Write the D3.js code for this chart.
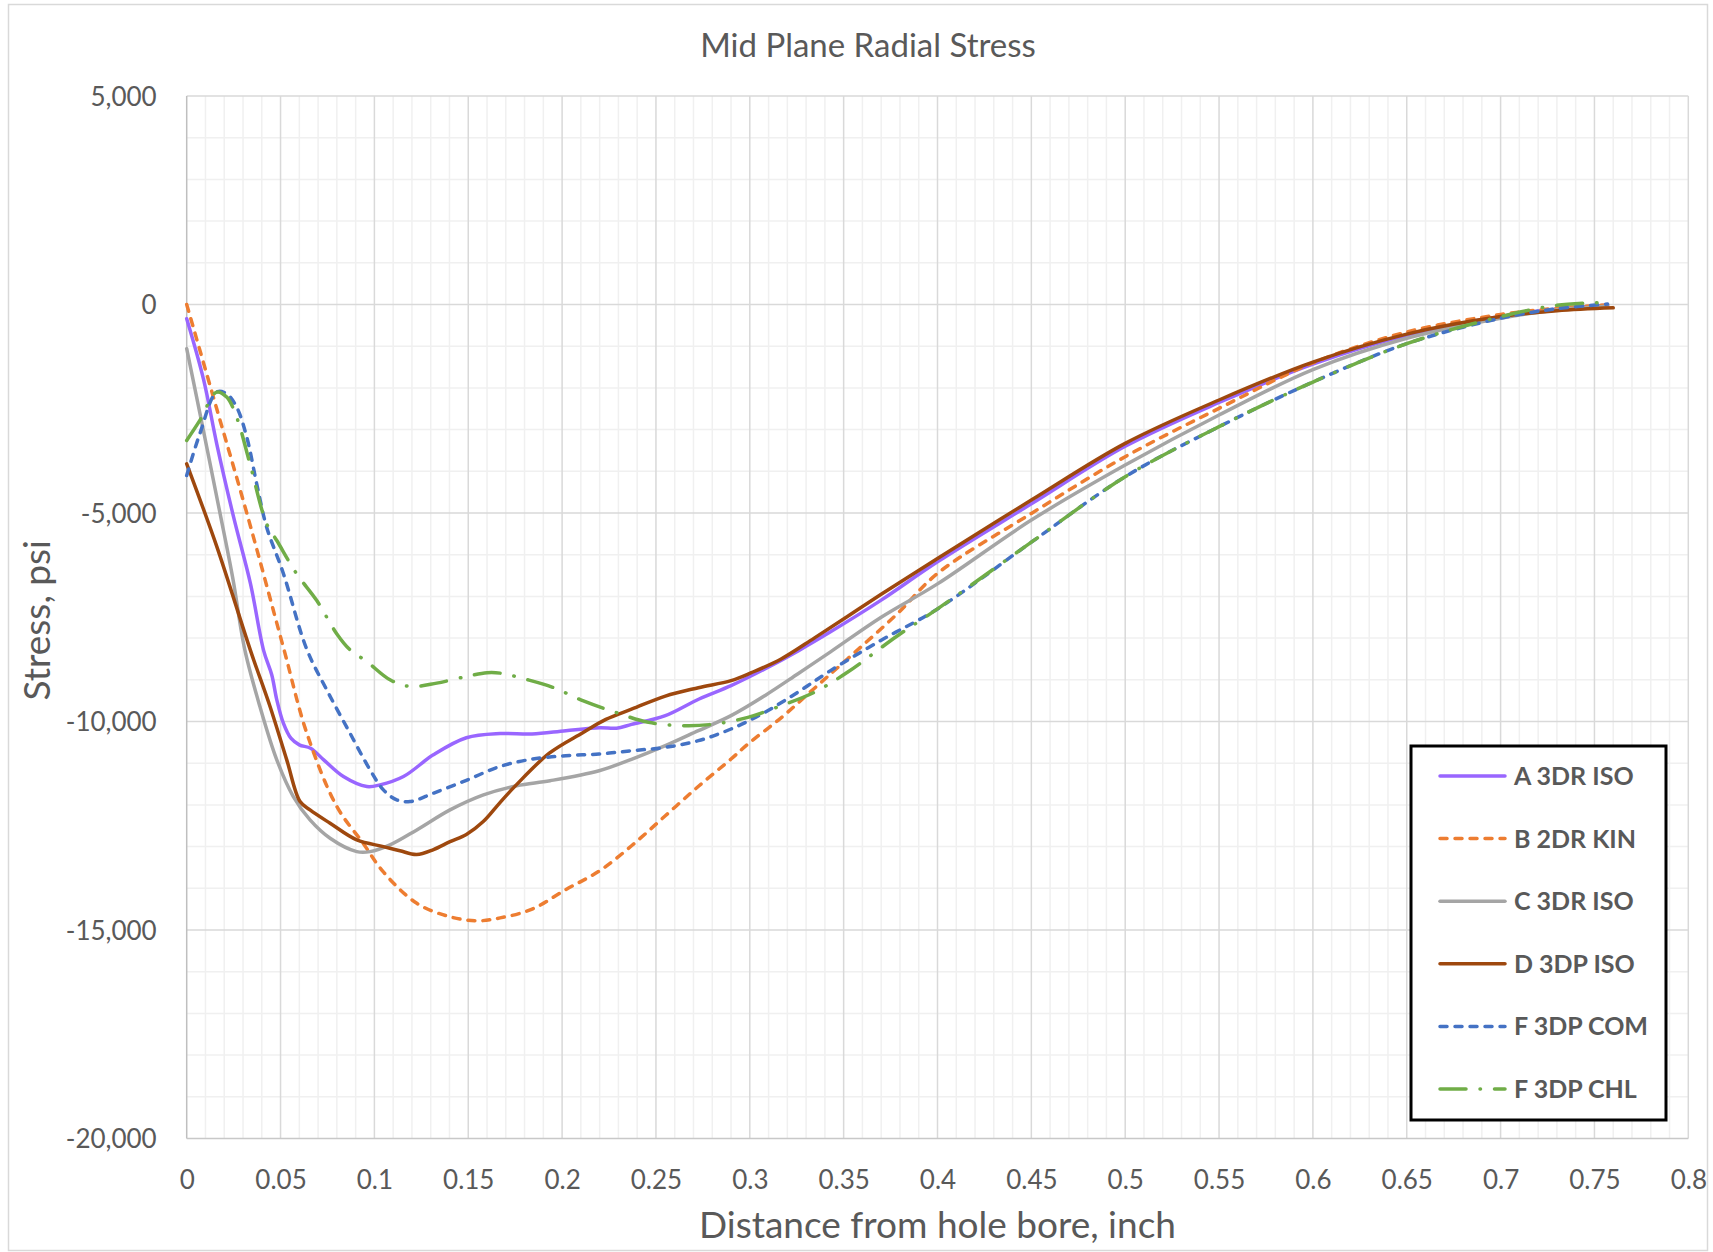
<!DOCTYPE html>
<html>
<head>
<meta charset="utf-8">
<script src="https://cdn.jsdelivr.net/npm/d3@7"></script>
<style>
  html, body { margin: 0; padding: 0; background: #ffffff; }
  svg { display: block; font-family: Lato, "Open Sans", "Noto Sans", sans-serif; }
</style>
</head>
<body>
<svg id="chart" width="1713" height="1252"></svg>
<script>
// ---------- text ----------
const chartTitle = "Mid Plane Radial Stress";
const xAxisTitle = "Distance from hole bore, inch";
const yAxisTitle = "Stress, psi";

// ---------- ticks ----------
const xTickValues = [0, 0.05, 0.1, 0.15, 0.2, 0.25, 0.3, 0.35, 0.4, 0.45, 0.5, 0.55, 0.6, 0.65, 0.7, 0.75, 0.8];
const xTickLabels = ["0", "0.05", "0.1", "0.15", "0.2", "0.25", "0.3", "0.35", "0.4", "0.45", "0.5", "0.55", "0.6", "0.65", "0.7", "0.75", "0.8"];
const yTickValues = [5000, 0, -5000, -10000, -15000, -20000];
const yTickLabels = ["5,000", "0", "-5,000", "-10,000", "-15,000", "-20,000"];

// ---------- series (distance in inch, stress in psi) ----------
const seriesNames = ["A 3DR ISO", "B 2DR KIN", "C 3DR ISO", "D 3DP ISO", "F 3DP COM", "F 3DP CHL"];

const aX = [0, 0.009, 0.016, 0.025, 0.034, 0.041, 0.0453, 0.048, 0.0515, 0.0555, 0.06, 0.066, 0.073, 0.0835, 0.096, 0.103, 0.1155, 0.1314, 0.149, 0.167, 0.184, 0.202, 0.22, 0.229, 0.237, 0.255, 0.273, 0.29, 0.308, 0.326, 0.343, 0.37, 0.4, 0.45, 0.5, 0.55, 0.6, 0.65, 0.7, 0.73, 0.757];
const aY = [-340, -1800, -3340, -5100, -6700, -8300, -8880, -9480, -10040, -10400, -10560, -10640, -10920, -11320, -11560, -11520, -11320, -10800, -10390, -10290, -10300, -10220, -10150, -10160, -10070, -9860, -9460, -9140, -8740, -8300, -7850, -7090, -6170, -4780, -3400, -2350, -1430, -740, -290, -110, -20];

const bX = [0, 0.016, 0.032, 0.0515, 0.064, 0.08, 0.094, 0.105, 0.1226, 0.14, 0.1545, 0.167, 0.184, 0.202, 0.22, 0.237, 0.255, 0.273, 0.29, 0.299, 0.317, 0.334, 0.352, 0.3785, 0.4, 0.45, 0.5, 0.55, 0.6, 0.65, 0.7, 0.73, 0.757];
const bY = [0, -2500, -5000, -8220, -10280, -12040, -12920, -13620, -14360, -14680, -14780, -14710, -14500, -14030, -13580, -12980, -12260, -11540, -10900, -10540, -9900, -9220, -8500, -7420, -6450, -5010, -3650, -2490, -1400, -660, -240, -90, -10];

const cX = [0, 0.007, 0.0175, 0.0245, 0.031, 0.039, 0.048, 0.0568, 0.0657, 0.0764, 0.0906, 0.0977, 0.1083, 0.1226, 0.1403, 0.1581, 0.1758, 0.1936, 0.2197, 0.2373, 0.255, 0.2726, 0.29, 0.308, 0.3255, 0.343, 0.37, 0.4, 0.45, 0.5, 0.55, 0.6, 0.65, 0.7, 0.73, 0.757];
const cY = [-1060, -2600, -4950, -6550, -8290, -9640, -10920, -11800, -12360, -12800, -13120, -13120, -12960, -12600, -12120, -11760, -11540, -11420, -11180, -10900, -10580, -10220, -9860, -9380, -8860, -8330, -7500, -6700, -5170, -3850, -2650, -1560, -810, -330, -130, -40];

const dX = [0, 0.016, 0.034, 0.0444, 0.0533, 0.0604, 0.0657, 0.0764, 0.0906, 0.1048, 0.1136, 0.1225, 0.1315, 0.1403, 0.149, 0.158, 0.1668, 0.1756, 0.1932, 0.211, 0.2233, 0.2373, 0.255, 0.2726, 0.29, 0.3008, 0.3167, 0.3343, 0.352, 0.37, 0.4, 0.45, 0.5, 0.55, 0.6, 0.65, 0.7, 0.73, 0.76];
const dY = [-3820, -5800, -8300, -9640, -10920, -11920, -12120, -12440, -12840, -13000, -13100, -13190, -13070, -12880, -12710, -12400, -11950, -11520, -10760, -10270, -9950, -9700, -9390, -9190, -9020, -8830, -8500, -8000, -7480, -6950, -6090, -4690, -3330, -2290, -1380, -710, -290, -150, -80];

const eX = [0, 0.007, 0.016, 0.0213, 0.0266, 0.032, 0.0373, 0.0426, 0.0515, 0.0639, 0.0746, 0.087, 0.0977, 0.1048, 0.1119, 0.119, 0.1314, 0.149, 0.1668, 0.1844, 0.202, 0.2197, 0.2373, 0.255, 0.2726, 0.29, 0.308, 0.3255, 0.343, 0.37, 0.4, 0.45, 0.5, 0.55, 0.6, 0.65, 0.7, 0.73, 0.757];
const eY = [-4100, -3100, -2100, -2140, -2460, -3180, -4300, -5340, -6450, -8260, -9240, -10280, -11160, -11640, -11880, -11920, -11720, -11410, -11080, -10900, -10820, -10780, -10700, -10620, -10460, -10180, -9780, -9300, -8780, -8050, -7300, -5700, -4130, -2930, -1860, -940, -330, -100, 10];

const fX = [0, 0.007, 0.016, 0.0213, 0.0266, 0.0337, 0.0426, 0.048, 0.0586, 0.0693, 0.08, 0.087, 0.0959, 0.1083, 0.119, 0.1332, 0.149, 0.16, 0.167, 0.181, 0.195, 0.211, 0.2285, 0.246, 0.2655, 0.2814, 0.299, 0.3167, 0.3343, 0.352, 0.3785, 0.4, 0.45, 0.5, 0.55, 0.6, 0.65, 0.7, 0.73, 0.757];
const fY = [-3260, -2780, -2100, -2220, -2700, -3820, -5260, -5660, -6460, -7100, -7900, -8280, -8560, -9000, -9160, -9080, -8920, -8830, -8840, -8990, -9180, -9500, -9780, -10020, -10100, -10060, -9900, -9620, -9300, -8820, -7950, -7300, -5700, -4130, -2930, -1860, -940, -290, -20, 50];

// ---------- styling per series ----------
const seriesStyles = [
  { color: "#9966FF", dash: null },
  { color: "#ED7D31", dash: "7,8" },
  { color: "#A5A5A5", dash: null },
  { color: "#9E480E", dash: null },
  { color: "#4472C4", dash: "7,8" },
  { color: "#70AD47", dash: "26,14,0.5,14" }
];

const seriesXs = [aX, bX, cX, dX, eX, fX];
const seriesYs = [aY, bY, cY, dY, eY, fY];
const series = seriesNames.map((name, i) => ({
  name,
  style: seriesStyles[i],
  points: seriesXs[i].map((x, j) => [x, seriesYs[i][j]])
}));

// ---------- layout ----------
const plot = { left: 186.7, right: 1688.3, top: 96, bottom: 1138.5 };
const textColor = "#595959";
const lineWidth = 3.5;

const svg = d3.select("#chart");

// chart area border
svg.append("rect")
  .attr("x", 8.5).attr("y", 4.5)
  .attr("width", 1699).attr("height", 1246)
  .attr("fill", "#ffffff")
  .attr("stroke", "#d9d9d9").attr("stroke-width", 1.5);

const x = d3.scaleLinear().domain([0, 0.8]).range([plot.left, plot.right]);
const y = d3.scaleLinear().domain([-20000, 5000]).range([plot.bottom, plot.top]);

// minor gridlines
const grid = svg.append("g");
grid.selectAll("line.minor-x")
  .data(d3.range(0, 81).filter(i => i % 5 !== 0).map(i => i / 100))
  .join("line")
  .attr("x1", d => x(d)).attr("x2", d => x(d))
  .attr("y1", plot.top).attr("y2", plot.bottom)
  .attr("stroke", "#f0f0f0").attr("stroke-width", 1.5);
grid.selectAll("line.minor-y")
  .data(d3.range(-20000, 5001, 1000).filter(v => v % 5000 !== 0))
  .join("line")
  .attr("x1", plot.left).attr("x2", plot.right)
  .attr("y1", d => y(d)).attr("y2", d => y(d))
  .attr("stroke", "#f0f0f0").attr("stroke-width", 1.5);

// major gridlines
grid.selectAll("line.major-x")
  .data(xTickValues.slice(1))
  .join("line")
  .attr("x1", d => x(d)).attr("x2", d => x(d))
  .attr("y1", plot.top).attr("y2", plot.bottom)
  .attr("stroke", "#d9d9d9").attr("stroke-width", 1.5);
grid.selectAll("line.major-y")
  .data(yTickValues.slice(0, -1))
  .join("line")
  .attr("x1", plot.left).attr("x2", plot.right)
  .attr("y1", d => y(d)).attr("y2", d => y(d))
  .attr("stroke", "#d9d9d9").attr("stroke-width", 1.5);

// axis lines
svg.append("line")
  .attr("x1", plot.left).attr("x2", plot.left)
  .attr("y1", plot.top).attr("y2", plot.bottom)
  .attr("stroke", "#bfbfbf").attr("stroke-width", 1.5);
svg.append("line")
  .attr("x1", plot.left).attr("x2", plot.right)
  .attr("y1", plot.bottom).attr("y2", plot.bottom)
  .attr("stroke", "#c8c8c8").attr("stroke-width", 1.5);

// tick labels through d3 axes
const xAxis = d3.axisBottom(x)
  .tickValues(xTickValues)
  .tickFormat((d, i) => xTickLabels[i])
  .tickSize(0).tickPadding(32);
const gx = svg.append("g").attr("transform", `translate(0,${plot.bottom})`).call(xAxis);
gx.select(".domain").remove();
gx.selectAll("text").attr("fill", textColor).style("font-size", "26px").style("font-family", "Lato, sans-serif");

const yAxis = d3.axisLeft(y)
  .tickValues(yTickValues)
  .tickFormat((d, i) => yTickLabels[i])
  .tickSize(0).tickPadding(30);
const gy = svg.append("g").attr("transform", `translate(${plot.left},0)`).call(yAxis);
gy.select(".domain").remove();
gy.selectAll("text").attr("fill", textColor).attr("dy", "0.36em").style("font-size", "26px").style("font-family", "Lato, sans-serif");

// series lines
const line = d3.line()
  .x(d => x(d[0]))
  .y(d => y(d[1]))
  .curve(d3.curveCatmullRom.alpha(0.5));

svg.append("g").selectAll("path")
  .data(series)
  .join("path")
  .attr("d", d => line(d.points))
  .attr("fill", "none")
  .attr("stroke", d => d.style.color)
  .attr("stroke-width", lineWidth)
  .attr("stroke-linecap", "round")
  .attr("stroke-linejoin", "round")
  .attr("stroke-dasharray", d => d.style.dash);

// titles
svg.append("text")
  .attr("x", 868).attr("y", 57)
  .attr("text-anchor", "middle")
  .attr("fill", textColor)
  .style("font-size", "33px")
  .text(chartTitle);

svg.append("text")
  .attr("x", (plot.left + plot.right) / 2).attr("y", 1238)
  .attr("text-anchor", "middle")
  .attr("fill", textColor)
  .style("font-size", "37px")
  .text(xAxisTitle);

svg.append("text")
  .attr("transform", `translate(50,${(plot.top + plot.bottom) / 2 + 3}) rotate(-90)`)
  .attr("text-anchor", "middle")
  .attr("fill", textColor)
  .style("font-size", "37px")
  .text(yAxisTitle);

// legend
const legend = svg.append("g");
legend.append("rect")
  .attr("x", 1411).attr("y", 746)
  .attr("width", 255).attr("height", 374)
  .attr("fill", "#ffffff")
  .attr("stroke", "#000000").attr("stroke-width", 3);

const rowY = d3.scalePoint().domain(seriesNames).range([776, 1089]);
const rows = legend.selectAll("g.row")
  .data(series)
  .join("g")
  .attr("transform", d => `translate(0,${rowY(d.name)})`);
rows.append("line")
  .attr("x1", 1440).attr("x2", 1505)
  .attr("y1", 0).attr("y2", 0)
  .attr("stroke", d => d.style.color)
  .attr("stroke-width", lineWidth)
  .attr("stroke-linecap", "round")
  .attr("stroke-dasharray", d => d.style.dash);
rows.append("text")
  .attr("x", 1514).attr("y", 0).attr("dy", "0.36em")
  .attr("fill", textColor)
  .style("font-size", "25px")
  .style("font-weight", "bold")
  .text(d => d.name);
</script>
</body>
</html>
